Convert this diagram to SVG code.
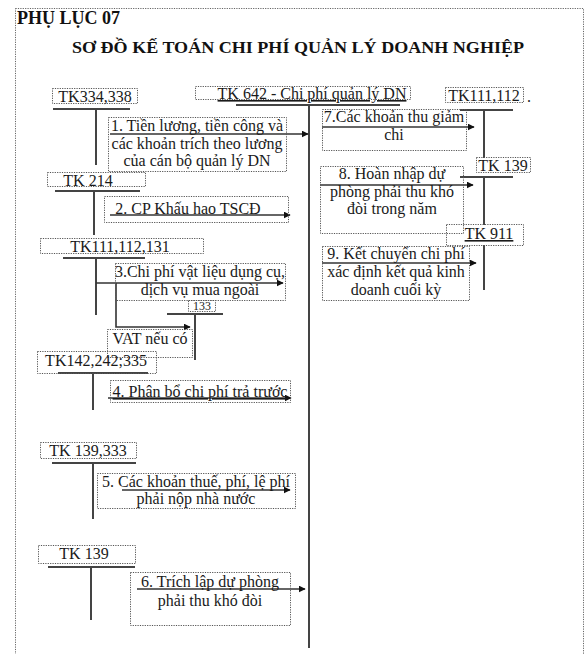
<svg xmlns="http://www.w3.org/2000/svg" width="586" height="654" viewBox="0 0 586 654">
<style>
text{font-family:"Liberation Serif","Times New Roman",serif;font-size:16px;fill:#1a1a1a}
.t{font-weight:bold;font-size:17px;fill:#111}
.bx{fill:none;stroke:#555;stroke-width:1;stroke-dasharray:1.2 1.2}
.ln{stroke:#444;stroke-width:2;fill:none}
.ar{stroke:#333;stroke-width:1.6;fill:none;marker-end:url(#ah)}
.c{text-anchor:middle}
.u{text-decoration:underline}
</style>
<defs>
<marker id="ah" viewBox="0 0 10 10" refX="9" refY="5" markerWidth="7" markerHeight="7" orient="auto" markerUnits="userSpaceOnUse">
<path d="M0,0 L10,5 L0,10 z" fill="#111"/>
</marker>
</defs>
<rect x="15.5" y="8.5" width="568" height="660" fill="#fff" stroke="#666" stroke-dasharray="1.2 1.2"/>
<g id="title">
<text class="t" x="17" y="24" style="font-size:18px">PHỤ LỤC  07</text>
<text class="t" x="298" y="53" text-anchor="middle" textLength="452" lengthAdjust="spacingAndGlyphs">SƠ ĐỒ KẾ TOÁN CHI PHÍ QUẢN LÝ DOANH NGHIỆP</text>
</g>
<g id="connectors">
<line class="ln" x1="236" y1="105" x2="400" y2="105"/>
<line class="ln" x1="309" y1="105" x2="309" y2="648"/>
<line class="ln" x1="53" y1="109" x2="130" y2="109"/>
<line class="ln" x1="96" y1="109" x2="96" y2="165"/>
<line class="ar" x1="110" y1="134" x2="308" y2="134"/>
<line class="ln" x1="55" y1="191" x2="140" y2="191"/>
<line class="ln" x1="94" y1="191" x2="94" y2="235"/>
<line class="ar" x1="110" y1="215" x2="290" y2="215"/>
<line class="ln" x1="63" y1="258" x2="145" y2="258"/>
<line class="ln" x1="96" y1="258" x2="96" y2="315"/>
<line class="ar" x1="96" y1="283" x2="283" y2="283"/>
<polyline class="ar" points="116,283 116,327 190,327"/>
<line class="ln" x1="167" y1="314" x2="223" y2="314"/>
<line class="ln" x1="195" y1="314" x2="195" y2="360"/>
<line class="ln" x1="58" y1="373" x2="148" y2="373"/>
<line class="ln" x1="93" y1="373" x2="93" y2="410"/>
<line class="ar" x1="108" y1="398" x2="291" y2="398"/>
<line class="ln" x1="52" y1="463" x2="136" y2="463"/>
<line class="ln" x1="93" y1="463" x2="93" y2="519"/>
<line class="ar" x1="122" y1="490" x2="290" y2="490"/>
<line class="ln" x1="48" y1="567" x2="135" y2="567"/>
<line class="ln" x1="91" y1="567" x2="91" y2="620"/>
<line class="ar" x1="137" y1="589" x2="305" y2="589"/>
<line class="ln" x1="460" y1="110" x2="513" y2="110"/>
<line class="ln" x1="484" y1="110" x2="484" y2="158"/>
<line class="ar" x1="322" y1="127" x2="474" y2="127"/>
<line class="ln" x1="460" y1="177" x2="513" y2="177"/>
<line class="ln" x1="484" y1="177" x2="484" y2="225"/>
<line class="ar" x1="320" y1="185" x2="473" y2="185"/>
<line class="ln" x1="484" y1="245" x2="484" y2="290"/>
<line class="ar" x1="322" y1="263" x2="476" y2="263"/>
</g>
<g id="tk642">
<rect class="bx" x="195.5" y="86.5" width="215" height="13"/>
<text x="312" y="99" class="c u">TK 642 - Chi phí quản lý DN</text>
</g>
<g id="tk334">
<rect class="bx" x="52.5" y="88.5" width="85" height="15"/>
<text x="95" y="102" class="c">TK334,338</text>
</g>
<g id="n1">
<rect class="bx" x="108.5" y="117.5" width="178" height="54"/>
<text x="197" y="131" class="c">1. Tiền lương, tiền công và</text>
<text x="197" y="149" class="c">các khoản trích theo lương</text>
<text x="197" y="166" class="c">của cán bộ quản lý DN</text>
</g>
<g id="tk214">
<rect class="bx" x="47.5" y="172.5" width="98" height="14"/>
<text x="88" y="186" class="c">TK 214</text>
</g>
<g id="n2">
<rect class="bx" x="104.5" y="196.5" width="184" height="26"/>
<text x="188" y="214" class="c">2. CP Khấu hao TSCĐ</text>
</g>
<g id="tk111">
<rect class="bx" x="40.5" y="238.5" width="163" height="15"/>
<text x="120" y="252" class="c">TK111,112,131</text>
</g>
<g id="n3">
<rect class="bx" x="115.5" y="263.5" width="170" height="37"/>
<text x="200" y="277" class="c">3.Chi phí vật liệu dụng cụ,</text>
<text x="200" y="295" class="c">dịch vụ mua ngoài</text>
</g>
<g id="tk133">
<rect class="bx" x="188.5" y="300.5" width="27" height="11"/>
<text x="202" y="310" class="c" style="font-size:12px">133</text>
</g>
<g id="vat">
<rect class="bx" x="107.5" y="329.5" width="85" height="28"/>
<text x="150" y="344" class="c">VAT nếu có</text>
</g>
<g id="tk142">
<rect class="bx" x="37.5" y="351.5" width="119" height="22"/>
<text x="96" y="366" class="c">TK142,242;335</text>
</g>
<g id="n4">
<rect class="bx" x="110.5" y="380.5" width="180" height="22"/>
<text x="200" y="397" class="c u">4. Phân bổ chi phí trả trước</text>
</g>
<g id="tk139333">
<rect class="bx" x="40.5" y="442.5" width="96" height="16"/>
<text x="88" y="456" class="c">TK 139,333</text>
</g>
<g id="n5">
<rect class="bx" x="97.5" y="473.5" width="198" height="35"/>
<text x="196" y="487" class="c">5. Các khoản thuế, phí, lệ phí</text>
<text x="196" y="504" class="c">phải nộp nhà nước</text>
</g>
<g id="tk139b">
<rect class="bx" x="38.5" y="545.5" width="97" height="18"/>
<text x="84" y="559" class="c">TK 139</text>
</g>
<g id="n6">
<rect class="bx" x="130.5" y="572.5" width="160" height="53"/>
<text x="210" y="587" class="c">6. Trích lập dự phòng</text>
<text x="210" y="606" class="c">phải thu khó đòi</text>
</g>
<g id="tk111r">
<rect class="bx" x="445.5" y="87.5" width="78" height="15"/>
<text x="484" y="101" class="c">TK111,112</text>
<text x="527" y="102">.</text>
</g>
<g id="n7">
<rect class="bx" x="322.5" y="109.5" width="144" height="41"/>
<text x="394" y="122" class="c">7.Các khoản thu giảm</text>
<text x="394" y="140" class="c">chi</text>
</g>
<g id="tk139r">
<rect class="bx" x="476.5" y="157.5" width="54" height="15"/>
<text x="503" y="171" class="c">TK 139</text>
</g>
<g id="n8">
<rect class="bx" x="320.5" y="166.5" width="143" height="67"/>
<text x="392" y="179" class="c">8. Hoàn nhập dự</text>
<text x="392" y="197" class="c">phòng phải thu khó</text>
<text x="392" y="214" class="c">đòi trong năm</text>
</g>
<g id="tk911">
<rect class="bx" x="446.5" y="224.5" width="77" height="21"/>
<text x="489" y="239" class="c u">TK 911</text>
</g>
<g id="n9">
<rect class="bx" x="322.5" y="246.5" width="147" height="54"/>
<text x="396" y="259" class="c">9. Kết chuyển chi phí</text>
<text x="396" y="277" class="c">xác định kết quả kinh</text>
<text x="396" y="295" class="c">doanh cuối kỳ</text>
</g>
</svg>
